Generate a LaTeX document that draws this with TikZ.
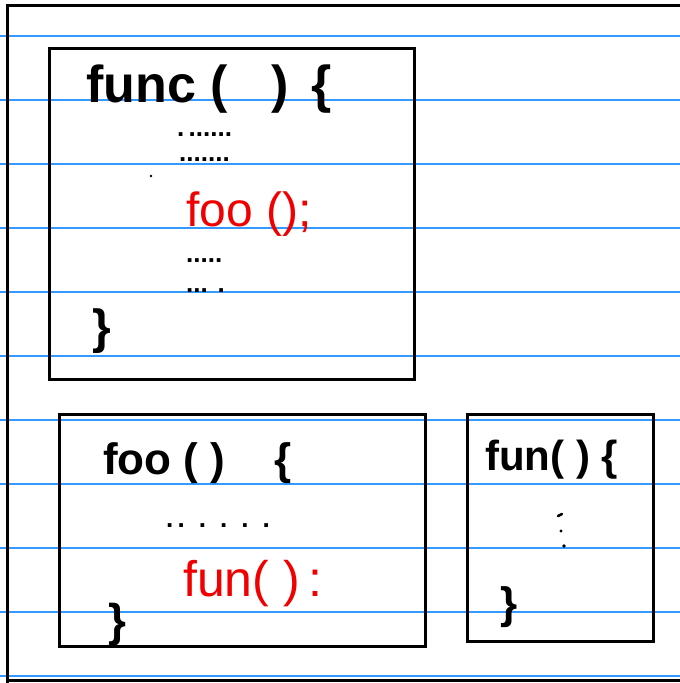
\documentclass[tikz,border=0pt]{standalone}
\usepackage{fontspec}
\setmainfont{Liberation Sans}
\usepackage{xcolor}
\usetikzlibrary{positioning}
\definecolor{ruled}{RGB}{51,153,255}
\definecolor{callred}{RGB}{240,0,0}

\begin{document}
\begin{tikzpicture}[x=1pt, y=-1pt]
    % Styles
    \tikzstyle{rule} = [draw=ruled, line width=1.3pt]
    \tikzstyle{frame} = [draw, line width=3pt]
    \tikzstyle{fnbox} = [draw, line width=3pt]
    \tikzstyle{code} = [inner sep=0pt, anchor=base west, font=\fontsize{48}{48}\selectfont\bfseries]
    \tikzstyle{call} = [inner sep=0pt, anchor=base west, text=callred, font=\fontsize{48}{48}\selectfont]
    \tikzstyle{dots} = [inner sep=0pt, anchor=base west, font=\fontsize{26}{26}\selectfont\bfseries]

    \useasboundingbox (0,0) rectangle (680,683);

    % Ruled paper
    \foreach \y in {36,100,...,676}
        \draw [rule] (0,\y) -- (680,\y);
    \draw [frame] (7,683) -- (7,5) -- (680,5);
    \draw [frame] (7,680) -- (680,680);

    % Boxes
    \draw [fnbox] (49,48) rectangle (414,379);
    \draw [fnbox] (59,414) rectangle (425,646);
    \draw [fnbox] (467,414) rectangle (653,641);

    % Nodes: func
    \node [code, font=\fontsize{52}{52}\selectfont\bfseries] (funchead) at (86,102) {func\ (\ \ \ )\ \,\{};
    \node [dots] (funcdots1) at (177,136) {.\,......};
    \node [dots] (funcdots2) at (179,161) {.......};
    \node [call] (foocall) at (186,226) {foo ();};
    \node [dots] (funcdots3) at (186,262) {.....};
    \node [dots] (funcdots4) at (186,292) {... .};
    \node [code] (funcend) at (92,343) {\}};
    \fill (151,176) circle (1.3pt);

    % Nodes: foo
    \node [code, font=\fontsize{44}{44}\selectfont\bfseries] (foohead) at (103,474) {foo ( )\ \ \ \ \{};
    \node [dots] (foodots) at (166,527) {.\,.\, .\, .\, .\, .};
    \node [call, font=\fontsize{50}{50}\selectfont] (funcall) at (183,596) {fun( )\,:};
    \node [code, font=\fontsize{46}{46}\selectfont\bfseries] (fooend) at (108,636) {\}};

    % Nodes: fun
    \node [code, font=\fontsize{42}{42}\selectfont\bfseries] (funhead) at (485,470) {fun( ) \{};
    \draw [line width=2.6pt, line cap=round] (558,516) -- (562,514);
    \fill (561,531) circle (1.6pt) (564,546) circle (1.8pt);
    \node [code, font=\fontsize{44}{44}\selectfont\bfseries] (funend) at (500,618) {\}};
\end{tikzpicture}
\end{document}
